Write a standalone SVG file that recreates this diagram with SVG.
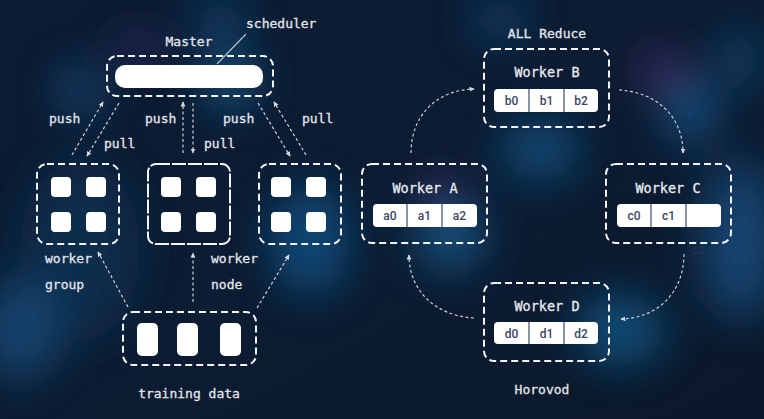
<svg xmlns="http://www.w3.org/2000/svg" width="764" height="419" viewBox="0 0 764 419">
<defs>
<style>
.box{fill:none;stroke:#f2f4f7;stroke-width:2;stroke-dasharray:7 4}
.sq{fill:#ffffff}
.con{fill:none;stroke:#c9ced8;stroke-width:1.2;stroke-dasharray:3 2.5}
.lbl{font-family:"DejaVu Sans Mono",monospace;font-size:13px;fill:#e3e6ec;stroke:#e3e6ec;stroke-width:0.3}
.wl{font-family:"DejaVu Sans Mono",monospace;font-size:13.5px;fill:#e8ebf0;stroke:#e8ebf0;stroke-width:0.3;text-anchor:middle}
.cell{fill:#ffffff}
.div{stroke:#8d93a6;stroke-width:2}
.ct{font-family:Roboto,"Liberation Sans",sans-serif;font-size:12px;font-weight:500;fill:#3b4763;text-anchor:middle}
</style>
<marker id="ah" viewBox="0 0 8 8" refX="6" refY="4" markerWidth="6" markerHeight="6" orient="auto" markerUnits="userSpaceOnUse">
<path d="M0,0.8 L7,4 L0,7.2 Z" fill="#d5d9e1"/>
</marker>
<filter id="blur" x="-50%" y="-50%" width="200%" height="200%"><feGaussianBlur stdDeviation="22"/></filter>
<linearGradient id="bg" x1="0" y1="0" x2="1" y2="1">
<stop offset="0" stop-color="#0c1b33"/>
<stop offset="0.5" stop-color="#0c1c32"/>
<stop offset="1" stop-color="#0b182b"/>
</linearGradient>
</defs>
<rect width="764" height="419" fill="url(#bg)"/>
<g filter="url(#blur)" opacity="0.95">
<ellipse cx="80" cy="250" rx="60" ry="90" fill="#0f2d4d"/>
<ellipse cx="230" cy="80" rx="25" ry="30" fill="#135a86"/>
<ellipse cx="80" cy="90" rx="20" ry="25" fill="#12507d"/>
<ellipse cx="310" cy="240" rx="40" ry="55" fill="#114c7a"/>
<ellipse cx="220" cy="20" rx="25" ry="20" fill="#114b78"/>
<ellipse cx="450" cy="235" rx="35" ry="35" fill="#125583"/>
<ellipse cx="440" cy="190" rx="15" ry="12" fill="#52307a"/>
<ellipse cx="540" cy="150" rx="40" ry="30" fill="#114d7a"/>
<ellipse cx="660" cy="70" rx="18" ry="14" fill="#632e86"/>
<ellipse cx="690" cy="110" rx="25" ry="35" fill="#125285"/>
<ellipse cx="620" cy="330" rx="45" ry="35" fill="#11517d"/>
<ellipse cx="740" cy="240" rx="40" ry="80" fill="#124775"/>
<ellipse cx="740" cy="60" rx="20" ry="30" fill="#114772"/>
<ellipse cx="20" cy="330" rx="40" ry="50" fill="#124672"/>
<ellipse cx="140" cy="50" rx="25" ry="14" fill="#332e66"/>
<ellipse cx="500" cy="20" rx="30" ry="20" fill="#104370"/>
</g>

<g id="connectors">
<line class="con" x1="246" y1="34" x2="217" y2="64" style="stroke-dasharray:none;stroke:#b8bfca"/>
<line class="con" x1="72" y1="155" x2="103" y2="102" marker-end="url(#ah)"/>
<line class="con" x1="119" y1="103" x2="87" y2="156" marker-end="url(#ah)"/>
<line class="con" x1="183" y1="153" x2="183" y2="102" marker-end="url(#ah)"/>
<line class="con" x1="193" y1="103" x2="193" y2="153" marker-end="url(#ah)"/>
<line class="con" x1="258" y1="103" x2="290" y2="156" marker-end="url(#ah)"/>
<line class="con" x1="306" y1="155" x2="274" y2="102" marker-end="url(#ah)"/>
<line class="con" x1="128" y1="307" x2="98" y2="252" marker-end="url(#ah)"/>
<line class="con" x1="193" y1="302" x2="193" y2="253" marker-end="url(#ah)"/>
<line class="con" x1="257" y1="308" x2="289" y2="255" marker-end="url(#ah)"/>
<path class="con" d="M411,153 C411,116 436,90 474,89" marker-end="url(#ah)"/>
<path class="con" d="M619,90 C656,92 683,116 683,153" marker-end="url(#ah)"/>
<path class="con" d="M684,254 C684,291 659,318 621,319" marker-end="url(#ah)"/>
<path class="con" d="M474,318 C436,316 409,291 409,255" marker-end="url(#ah)"/>
</g>

<g id="labels">
<text class="lbl" x="246" y="28">scheduler</text>
<text class="lbl" x="189" y="46" text-anchor="middle">Master</text>
<text class="lbl" x="49" y="123">push</text>
<text class="lbl" x="104" y="148">pull</text>
<text class="lbl" x="145" y="123">push</text>
<text class="lbl" x="204" y="148">pull</text>
<text class="lbl" x="223" y="123">push</text>
<text class="lbl" x="302" y="123">pull</text>
<text class="lbl" x="45" y="263">worker</text>
<text class="lbl" x="45" y="289">group</text>
<text class="lbl" x="211" y="263">worker</text>
<text class="lbl" x="211" y="289">node</text>
<text class="lbl" x="189" y="398" text-anchor="middle">training data</text>
<text class="lbl" x="547" y="38" text-anchor="middle">ALL Reduce</text>
<text class="lbl" x="542" y="394" text-anchor="middle">Horovod</text>
</g>

<g id="master">
<rect class="box" x="107" y="56" width="166" height="40" rx="10"/>
<rect class="sq" x="115" y="65" width="148" height="23" rx="10"/>
</g>

<g id="group1">
<rect class="box" x="37" y="164" width="82" height="80" rx="10"/>
<rect class="sq" x="51" y="177" width="20" height="20" rx="4"/>
<rect class="sq" x="86" y="177" width="20" height="20" rx="4"/>
<rect class="sq" x="51" y="212" width="20" height="20" rx="4"/>
<rect class="sq" x="86" y="212" width="20" height="20" rx="4"/>
</g>
<g id="group2">
<rect class="box" x="148" y="164" width="82" height="80" rx="8" style="stroke-dasharray:14 2"/>
<rect class="sq" x="161" y="177" width="20" height="20" rx="4"/>
<rect class="sq" x="196" y="177" width="20" height="20" rx="4"/>
<rect class="sq" x="161" y="212" width="20" height="20" rx="4"/>
<rect class="sq" x="196" y="212" width="20" height="20" rx="4"/>
</g>
<g id="group3">
<rect class="box" x="259" y="164" width="82" height="80" rx="10"/>
<rect class="sq" x="271" y="177" width="20" height="20" rx="4"/>
<rect class="sq" x="306" y="177" width="20" height="20" rx="4"/>
<rect class="sq" x="271" y="212" width="20" height="20" rx="4"/>
<rect class="sq" x="306" y="212" width="20" height="20" rx="4"/>
</g>
<g id="training-data">
<rect class="box" x="123" y="312" width="133" height="53" rx="10"/>
<rect class="sq" x="137" y="323" width="21" height="33" rx="5"/>
<rect class="sq" x="177" y="323" width="21" height="33" rx="5"/>
<rect class="sq" x="220" y="323" width="21" height="33" rx="5"/>
</g>

<g id="worker-b">
<rect class="box" x="484" y="49" width="125" height="78" rx="10"/>
<text class="wl" x="547" y="77">Worker B</text>
<rect class="cell" x="494" y="89" width="104" height="23" rx="4"/>
<line class="div" x1="529" y1="89" x2="529" y2="112"/>
<line class="div" x1="564" y1="89" x2="564" y2="112"/>
<text class="ct" x="511.5" y="105">b0</text>
<text class="ct" x="546.5" y="105">b1</text>
<text class="ct" x="581" y="105">b2</text>
</g>
<g id="worker-a">
<rect class="box" x="362" y="164" width="125" height="79" rx="10"/>
<text class="wl" x="425" y="193">Worker A</text>
<rect class="cell" x="373" y="204" width="104" height="23" rx="4"/>
<line class="div" x1="407" y1="204" x2="407" y2="227"/>
<line class="div" x1="442" y1="204" x2="442" y2="227"/>
<text class="ct" x="390" y="220">a0</text>
<text class="ct" x="424.5" y="220">a1</text>
<text class="ct" x="459.5" y="220">a2</text>
</g>
<g id="worker-c">
<rect class="box" x="606" y="164" width="125" height="79" rx="10"/>
<text class="wl" x="668" y="193">Worker C</text>
<rect class="cell" x="617" y="204" width="104" height="23" rx="4"/>
<line class="div" x1="651" y1="204" x2="651" y2="227"/>
<line class="div" x1="686" y1="204" x2="686" y2="227"/>
<text class="ct" x="634" y="220">c0</text>
<text class="ct" x="668.5" y="220">c1</text>
<text class="ct" x="698" y="254" style="fill:#1f3455">c2</text>
</g>
<g id="worker-d">
<rect class="box" x="484" y="283" width="125" height="78" rx="10"/>
<text class="wl" x="547" y="311">Worker D</text>
<rect class="cell" x="494" y="322" width="104" height="22" rx="4"/>
<line class="div" x1="529" y1="322" x2="529" y2="344"/>
<line class="div" x1="564" y1="322" x2="564" y2="344"/>
<text class="ct" x="511.5" y="338">d0</text>
<text class="ct" x="546.5" y="338">d1</text>
<text class="ct" x="581" y="338">d2</text>
</g>
</svg>
